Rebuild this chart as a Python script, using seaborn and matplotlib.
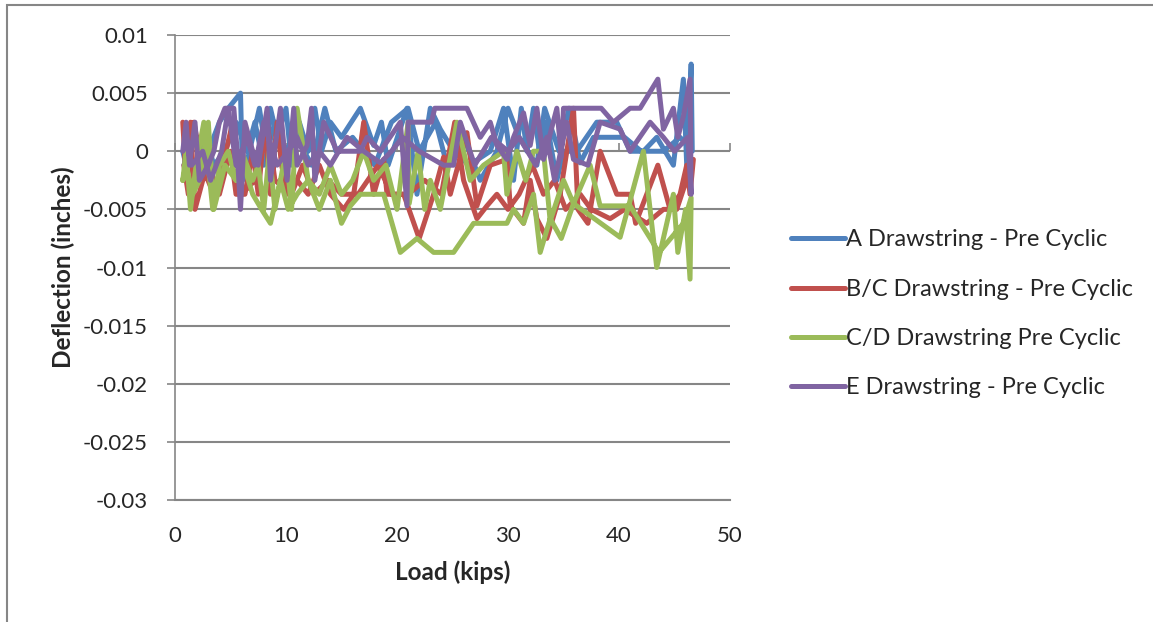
import numpy as np
import pandas as pd
import matplotlib
matplotlib.use("Agg")
import matplotlib.pyplot as plt
from matplotlib.patches import Rectangle
from matplotlib.lines import Line2D
import seaborn as sns

# ---- data: load (kips) and deflection (inches), loading then unloading pass ----
a_load = [0.7, 1.0, 1.5, 2.1, 2.5, 3.0, 4.0, 4.8, 5.9, 6.1, 7.0, 7.6, 8.2, 8.6, 9.2, 10.0, 10.5,
          11.2, 12.0, 12.6, 13.2, 14.0, 15.0, 16.7, 17.9, 18.6, 19.2, 20.9, 21.8, 22.4, 23.0, 23.9,
          25.1, 26.5, 28.4, 29.6, 30.5, 31.2, 31.7, 32.3, 32.9, 33.5, 34.4, 35.0, 36.2, 38.0, 39.8,
          41.0, 42.2, 43.4, 44.9, 45.8, 46.1, 46.5,
          46.6, 45.5, 44.0, 42.0, 40.5, 39.8, 37.7, 36.5, 35.5, 34.6, 33.3, 32.6, 31.0, 30.0, 29.0,
          27.5, 26.0, 24.5, 23.5, 22.0, 21.0, 19.5, 18.0, 16.0, 14.5, 13.5, 12.3, 11.0, 9.8, 9.0,
          8.0, 7.2, 6.5, 5.5, 4.5, 3.5, 2.8, 2.0, 1.2, 0.8]
a_defl = [0.0, -0.0012, 0.0012, 0.0012, -0.0012, 0.0, 0.0025, 0.0037, 0.005, -0.0025, 0.0012, 0.0037,
          0.0, 0.0037, 0.0012, 0.0037, -0.0012, 0.0025, 0.0, 0.0037, 0.0, 0.0025, 0.0012, 0.0037,
          0.0005, 0.0025, -0.0012, 0.0037, -0.0037, 0.0, 0.0037, 0.0019, 0.0, -0.0012, 0.0, 0.0037,
          -0.0025, 0.0037, 0.0, 0.0037, -0.0005, 0.0025, -0.0025, 0.0, 0.0, 0.0025, 0.0025, 0.0, 0.0,
          0.0012, -0.0012, 0.0062, -0.0012, 0.0075,
          0.0, 0.0012, 0.0, 0.0, 0.0012, 0.0012, 0.0012, -0.001, 0.0037, 0.0, 0.0037, -0.0012, 0.0012,
          0.0037, 0.0, -0.0025, 0.0012, -0.0012, 0.0025, 0.0, 0.0037, 0.0025, -0.0012, 0.0012, 0.0,
          0.0037, -0.0012, 0.0012, 0.0, 0.0025, -0.0012, 0.0025, 0.0, 0.0025, 0.0, -0.0012, 0.0012,
          -0.0025, 0.0, -0.0012]

bc_load = [0.7, 1.0, 1.4, 1.8, 2.5, 3.0, 4.0, 5.0, 5.5, 6.3, 7.0, 7.5, 8.1, 8.6, 9.2, 9.6, 10.2,
           11.0, 12.0, 13.0, 14.0, 15.2, 16.1, 17.0, 17.9, 18.8, 19.1, 20.6, 22.0, 23.3, 24.2, 24.8,
           26.3, 27.2, 28.4, 29.9, 30.2, 31.4, 32.0, 32.6, 33.5, 34.7, 35.9, 36.3, 37.2, 38.3, 39.8,
           41.0, 41.5, 43.5, 44.6, 45.5, 46.1, 46.4, 46.7,
           45.2, 44.0, 42.5, 40.5, 39.2, 37.5, 36.5, 35.2, 34.2, 33.2, 32.2, 31.0, 30.0, 29.0, 28.1,
           27.2, 26.0, 25.2, 24.0, 22.5, 21.0, 19.5, 18.3, 16.5, 15.0, 13.8, 12.5, 11.5, 10.5, 9.0,
           8.3, 7.2, 6.0, 5.2, 4.3, 3.5, 2.4, 1.7, 1.2, 0.8]
bc_defl = [0.0025, -0.0025, 0.0025, -0.005, -0.0025, -0.0012, -0.0037, 0.0, -0.0037, -0.0037, 0.0,
           -0.0037, 0.0025, -0.0037, 0.0025, -0.0012, -0.0037, -0.0025, -0.0037, -0.0012, -0.0037,
           -0.005, -0.0037, 0.0025, -0.0037, -0.0007, -0.0037, -0.0037, -0.0075, -0.0037, -0.0005,
           -0.0037, 0.0016, -0.0047, -0.0012, -0.0007, -0.0047, -0.0062, -0.0025, -0.0058, -0.0075,
           -0.0037, 0.0037, -0.005, -0.0062, 0.0, -0.0037, -0.0037, -0.0062, -0.0012, -0.005,
           -0.0037, -0.0012, -0.0037, -0.0007,
           -0.005, -0.005, -0.0062, -0.005, -0.0058, -0.005, -0.0037, -0.005, -0.0025, -0.0037,
           -0.0012, -0.0037, -0.005, -0.0037, -0.0047, -0.0058, -0.0025, 0.0025, -0.0037, -0.0025,
           -0.0037, -0.0037, -0.0012, -0.0037, -0.0037, -0.0025, -0.0037, -0.0012, -0.0037, -0.0025,
           0.0025, -0.0025, -0.0037, 0.0025, -0.0012, -0.0037, -0.0012, 0.0025, -0.0037, -0.0012]

cd_load = [0.7, 1.0, 1.4, 1.9, 2.6, 3.4, 4.0, 4.8, 5.5, 6.2, 7.0, 7.8, 8.6, 9.5, 10.2, 11.0, 12.0,
           13.0, 14.0, 15.0, 15.8, 16.7, 18.8, 20.3, 21.8, 23.3, 25.1, 26.9, 29.9, 30.5, 31.4, 32.3,
           32.9, 33.8, 34.8, 35.9, 40.1, 42.2, 43.4, 44.9, 45.3, 46.0, 46.4, 46.5,
           45.8, 43.6, 41.0, 38.3, 37.4, 35.9, 35.0, 33.8, 33.2, 32.3, 31.6, 30.8, 29.9, 29.6, 27.8,
           26.6, 25.4, 23.9, 23.0, 22.5, 21.9, 21.1, 21.0, 20.0, 19.0, 17.9, 17.0, 16.0, 15.0, 14.0,
           13.0, 12.0, 11.0, 10.5, 10.0, 9.0, 8.5, 8.0, 7.5, 7.0, 6.0, 5.5, 4.5, 3.5, 3.0, 2.2, 1.6,
           1.0, 0.7]
cd_defl = [-0.0025, 0.0, -0.005, -0.0012, 0.0025, -0.005, -0.0012, 0.0, -0.0025, -0.0012, -0.0037,
           -0.005, -0.0062, -0.0025, -0.005, -0.0037, -0.0025, -0.005, -0.0025, -0.0062, -0.0047,
           -0.0037, -0.0037, -0.0087, -0.0075, -0.0087, -0.0087, -0.0062, -0.0062, -0.005, -0.0062,
           -0.0037, -0.0087, -0.0058, -0.0075, -0.0045, -0.0074, 0.0, -0.01, -0.0037, -0.0087,
           -0.005, -0.011, -0.004,
           -0.0062, -0.0087, -0.0047, -0.0047, -0.0012, -0.0045, -0.0025, -0.006, 0.0, 0.0, -0.0025,
           0.0, -0.0037, 0.0, -0.0012, -0.0025, 0.0025, -0.005, -0.0025, -0.005, 0.0, -0.0045, 0.0025,
           -0.005, -0.0012, -0.0025, 0.0, -0.0025, -0.0037, -0.0012, -0.0037, -0.0025, 0.0037, -0.005,
           0.0, -0.005, 0.0, -0.005, -0.0012, -0.0025, 0.0, -0.0025, -0.0012, -0.005, 0.0025, -0.0025,
           -0.0037, -0.0012, -0.0025]

e_load = [0.7, 1.0, 1.3, 1.8, 2.2, 3.0, 3.5, 4.0, 4.5, 5.3, 5.6, 5.9, 6.3, 7.0, 7.5, 8.3, 8.6, 9.5,
          10.1, 10.7, 11.0, 11.9, 12.3, 12.6, 13.4, 14.6, 16.7, 17.3, 18.5, 20.3, 20.9, 21.0, 23.1,
          23.4, 24.8, 26.3, 27.5, 28.4, 29.0, 29.9, 30.5, 31.4, 32.0, 32.6, 33.2, 34.4, 34.8, 35.0,
          38.4, 39.5, 41.0, 41.9, 43.5, 44.0, 44.9, 45.3, 45.8, 46.4, 46.5,
          46.2, 45.0, 44.0, 42.8, 41.0, 40.1, 38.3, 37.2, 35.9, 35.3, 34.2, 33.5, 32.5, 31.0, 30.0,
          28.5, 27.0, 25.7, 25.1, 24.2, 22.0, 20.5, 19.5, 18.5, 17.0, 15.5, 14.0, 13.0, 12.0, 11.0,
          10.2, 9.2, 8.0, 7.2, 6.5, 5.5, 4.8, 4.2, 3.2, 2.5, 1.5, 0.9]
e_defl = [0.0, 0.0025, -0.0012, 0.0025, -0.0025, -0.0012, 0.0, 0.0025, 0.0037, 0.0037, 0.0, -0.005,
          0.0025, 0.0, -0.0012, 0.0037, -0.0025, 0.0037, -0.0025, 0.0037, -0.0012, 0.0005, 0.0037,
          -0.0025, 0.0025, 0.0, 0.0, 0.0012, 0.0, 0.0025, -0.0047, 0.0025, 0.0025, 0.0037, 0.0037,
          0.0037, 0.0012, 0.0025, 0.0005, -0.0007, 0.0012, 0.0033, 0.0005, 0.0037, -0.0007, 0.0037,
          -0.0005, 0.0037, 0.0037, 0.0025, 0.0037, 0.0037, 0.0062, 0.0019, 0.0037, 0.0012, 0.003,
          0.0062, -0.0037,
          0.0012, 0.0, 0.0012, 0.0025, 0.0, 0.0019, 0.0025, -0.0012, -0.0007, 0.0025, -0.0025, 0.0012,
          -0.0012, 0.0012, 0.0, 0.0012, -0.0012, 0.0025, -0.0012, -0.0012, 0.0, 0.0012, 0.0, -0.001,
          0.0, 0.0012, -0.0012, 0.0, -0.0012, 0.0012, 0.0, -0.0012, 0.0025, -0.0012, 0.0012, -0.0012,
          0.0037, 0.0, -0.0025, 0.0, -0.0012, 0.0012]

series_names = ["A Drawstring - Pre Cyclic", "B/C Drawstring - Pre Cyclic",
                "C/D Drawstring Pre Cyclic", "E Drawstring - Pre Cyclic"]
series_colors = ["#4F81BD", "#C0504D", "#9BBB59", "#8064A2"]

x_ticks = [0, 10, 20, 30, 40, 50]
y_ticks = [0.01, 0.005, 0, -0.005, -0.01, -0.015, -0.02, -0.025, -0.03]

# ---- long-form table ----
frames = []
for name, xs, ys in zip(series_names,
                        [a_load, bc_load, cd_load, e_load],
                        [a_defl, bc_defl, cd_defl, e_defl]):
    frames.append(pd.DataFrame({"load": xs, "defl": ys, "series": name}))
df = pd.concat(frames, ignore_index=True)

sns.set_theme(style="white")
plt.rcParams["font.family"] = ["Lato", "DejaVu Sans"]

W, H = 1153, 622
fig = plt.figure(figsize=(W / 100, H / 100), dpi=100)
fig.patch.set_facecolor("white")
ax = fig.add_axes([175 / W, 1 - 500 / H, (730 - 175) / W, (500 - 35) / H])

LW = 3.6
sns.lineplot(data=df, x="load", y="defl", hue="series", hue_order=series_names,
             palette=series_colors, sort=False, estimator=None, units="series",
             linewidth=LW, ax=ax, legend=False)
for ln in ax.lines:
    ln.set_solid_joinstyle("round")
    ln.set_solid_capstyle("round")

grid_c = "#868686"
ax.set_xlim(0, 50)
ax.set_ylim(-0.03, 0.01)
ax.set_yticks(y_ticks)
ax.set_yticklabels(["{:g}".format(v) for v in y_ticks])
ax.set_xticks(x_ticks)
ax.set_xticklabels([str(v) for v in x_ticks])
ax.yaxis.grid(True, color=grid_c, linewidth=1.5)
ax.xaxis.grid(False)
ax.set_axisbelow(True)
for side in ["top", "right"]:
    ax.spines[side].set_visible(False)
ax.spines["left"].set_color(grid_c)
ax.spines["left"].set_linewidth(1.2)
ax.spines["bottom"].set_color(grid_c)
ax.spines["bottom"].set_linewidth(1.5)
ax.tick_params(axis="y", which="major", direction="out", length=6, width=1.2,
               color=grid_c, labelsize=16, pad=13.5, left=True)
ax.tick_params(axis="x", which="major", length=0, labelsize=16, pad=19)

# horizontal axis crosses at zero: tick marks there, labels at the bottom
sec = ax.secondary_xaxis(0.75)
sec.set_xticks(x_ticks)
sec.tick_params(axis="x", direction="out", length=6, width=1.2, color=grid_c,
                labelbottom=False, labeltop=False)
sec.spines["bottom"].set_visible(False)
sec.spines["top"].set_visible(False)

ax.set_xlabel("Load (kips)", fontsize=17.5, fontweight="bold", labelpad=10)
ax.set_ylabel("Deflection (inches)", fontsize=17.5, fontweight="bold", labelpad=6)

handles = [Line2D([0], [0], color=c, lw=LW, solid_capstyle="round") for c in series_colors]
fig.legend(handles, series_names, loc="center left",
           bbox_to_anchor=(779 / W, 1 - 314 / H), frameon=False, fontsize=17,
           handlelength=2.3, handletextpad=0.05, labelspacing=1.2, borderpad=0)

# outer chart frame
fig.add_artist(Rectangle((7 / W, -0.2), 2.0, 1.2 - 5 / H, transform=fig.transFigure,
                         fill=False, edgecolor=grid_c, linewidth=1.5))

fig.savefig("out.png", dpi=100)
